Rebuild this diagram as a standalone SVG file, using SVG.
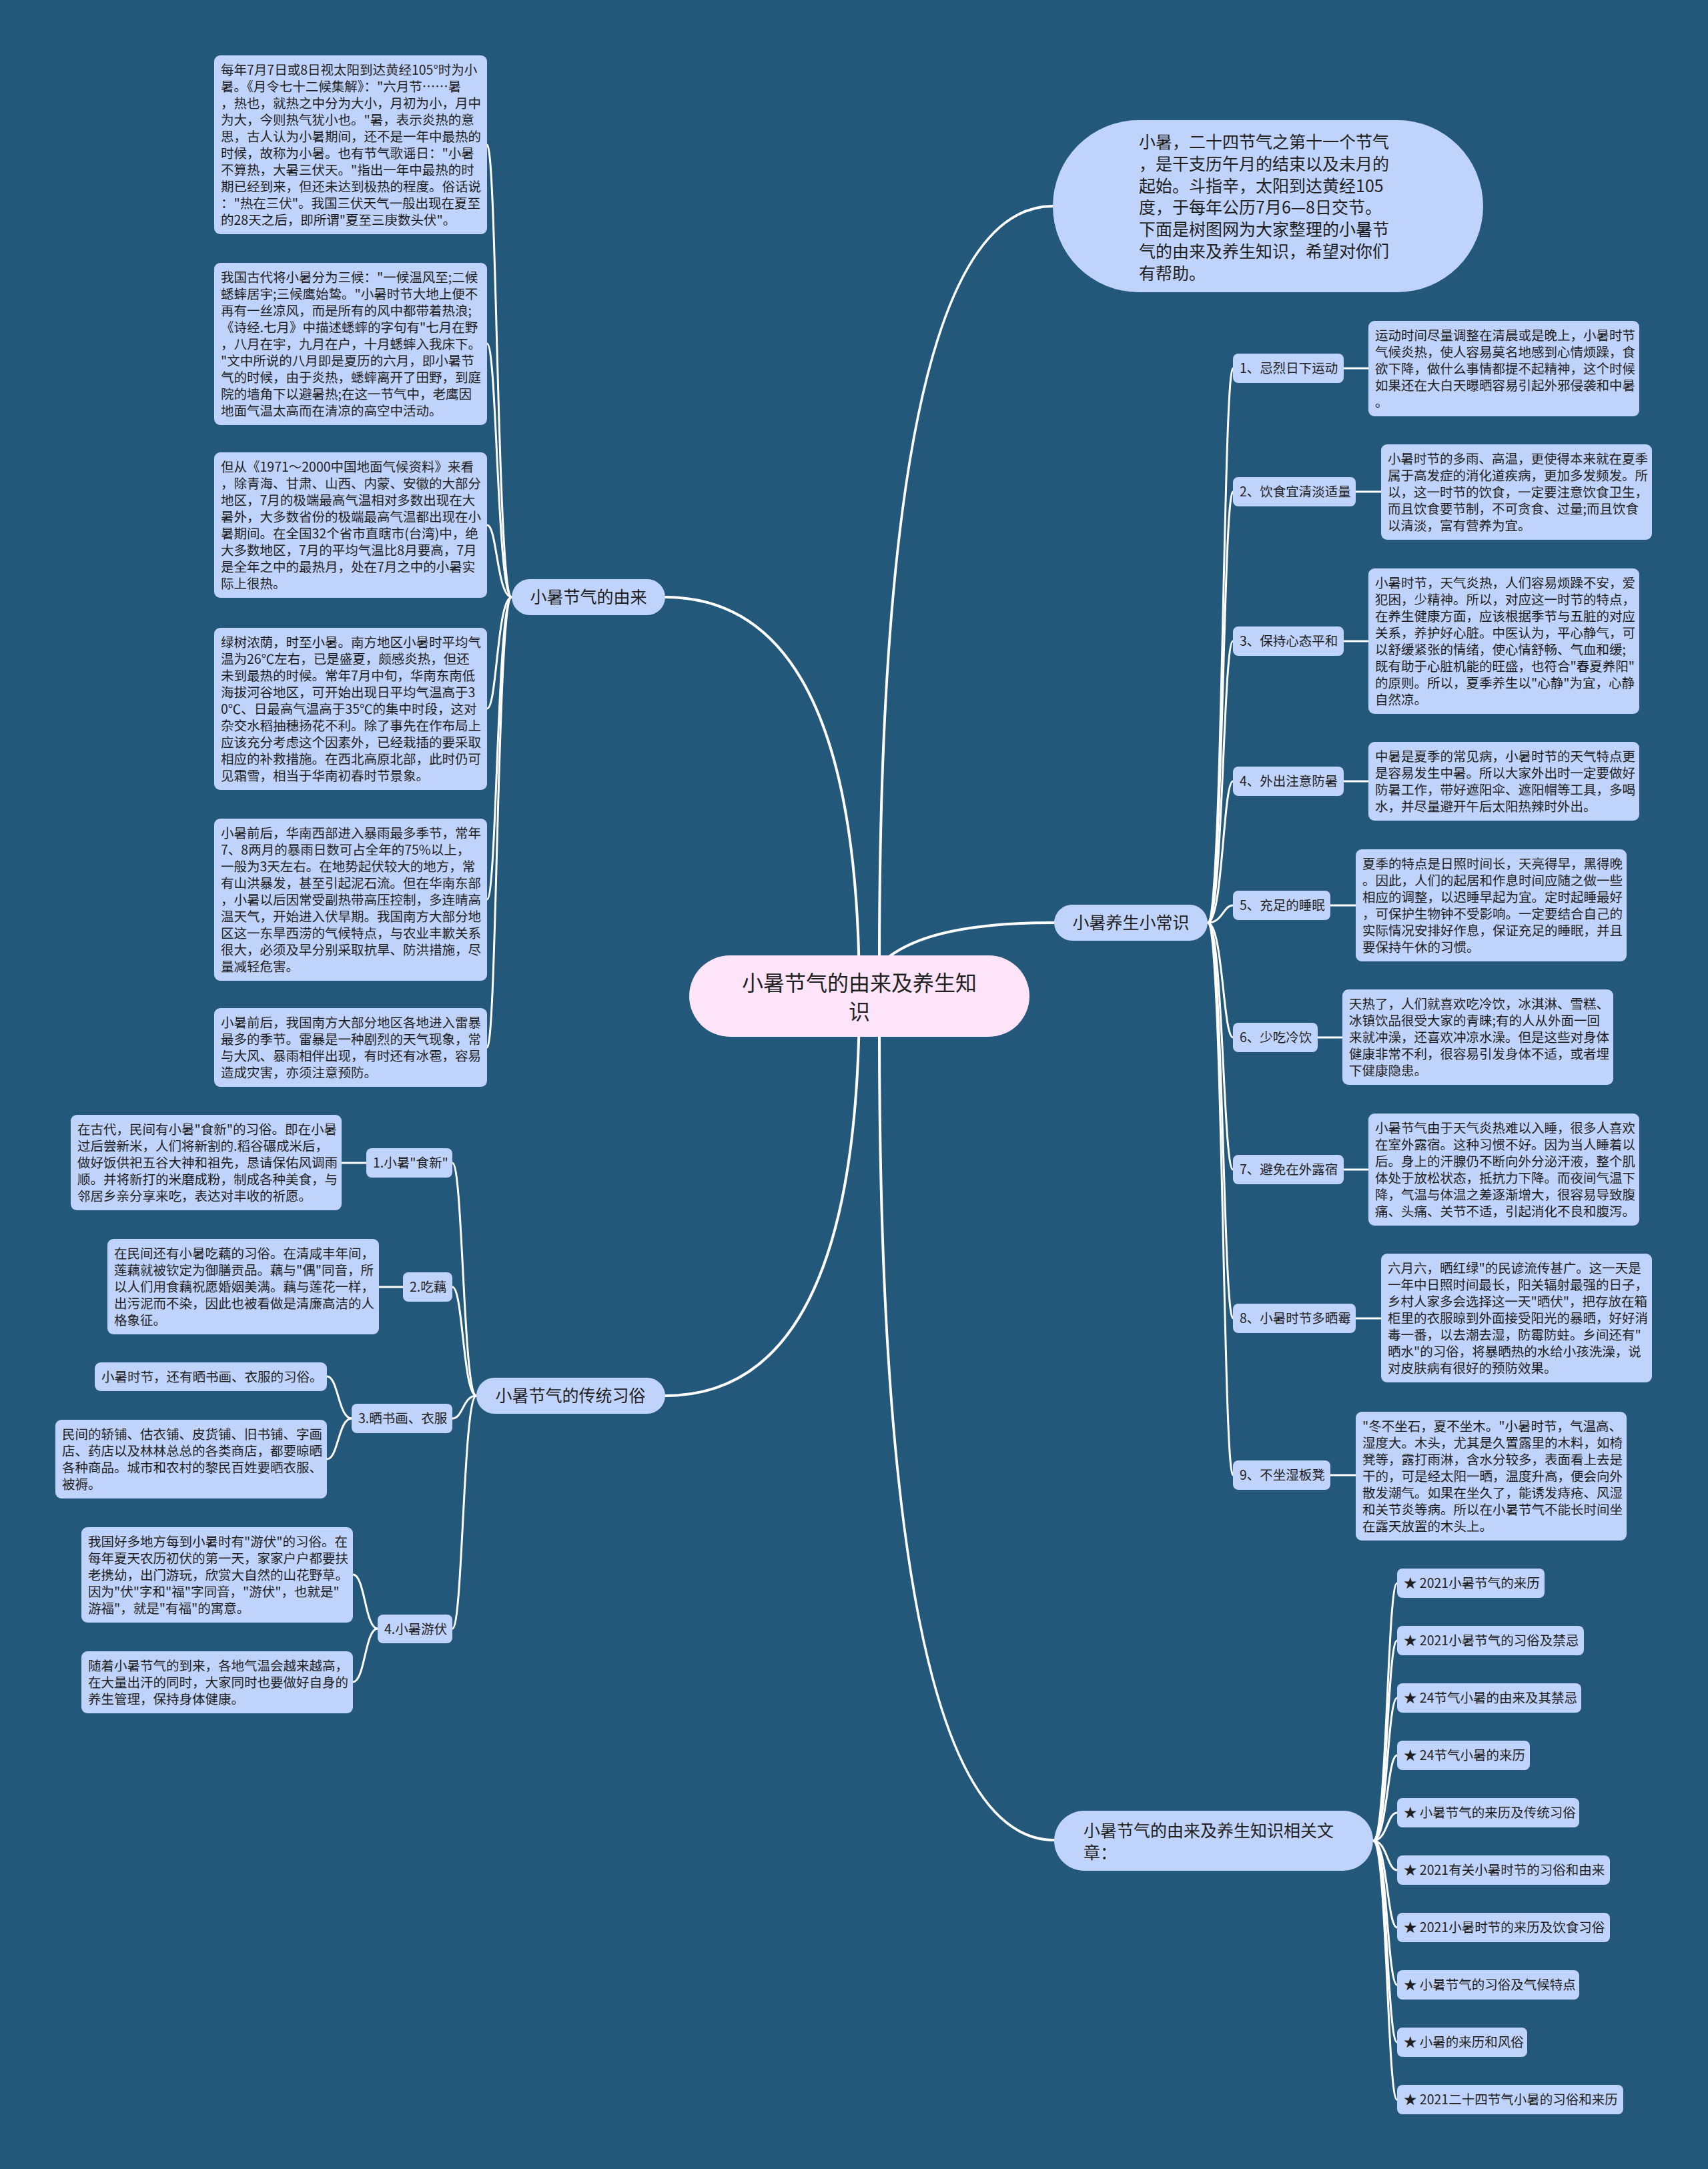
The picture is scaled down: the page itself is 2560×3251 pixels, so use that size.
<svg xmlns="http://www.w3.org/2000/svg" width="2560" height="3251" viewBox="0 0 2560 3251">
<style>
.box{fill:#bfd3fb}
.root{fill:#fde4f9}
.t{font-family:"Noto Sans CJK SC","Noto Sans CJK JP",sans-serif;font-size:19.5px;fill:#1f1f1f}
.t2{font-family:"Noto Sans CJK SC","Noto Sans CJK JP",sans-serif;font-size:25px;fill:#1f1f1f}
.t3{font-family:"Noto Sans CJK SC","Noto Sans CJK JP",sans-serif;font-size:32px;fill:#1f1f1f}
.c{fill:none;stroke:#ffffff;stroke-width:3;stroke-linecap:round}
.cm{fill:none;stroke:#ffffff;stroke-width:4;stroke-linecap:round}
</style>
<rect x="0" y="0" width="2560" height="3251" fill="#24587a"/>
<g id="connectors">
<path class="cm" d="M1288 1493 Q1288 895 997 895"/>
<path class="cm" d="M1288 1493 Q1288 2092 997 2092"/>
<path class="cm" d="M1318 1440 Q1318 309 1578 309"/>
<path class="cm" d="M1288 1493 C1320 1400 1450 1383 1580 1383"/>
<path class="cm" d="M1318 1548 Q1318 2758 1580 2758"/>
<path class="c" d="M767 895 C745 895 745 217 730 217"/>
<path class="c" d="M767 895 C745 895 745 515 730 515"/>
<path class="c" d="M767 895 C745 895 745 787 730 787"/>
<path class="c" d="M767 895 C745 895 745 1062 730 1062"/>
<path class="c" d="M767 895 C745 895 745 1348 730 1348"/>
<path class="c" d="M767 895 C745 895 745 1570 730 1570"/>
<path class="c" d="M714 2092 C694 2092 694 1743 678 1743"/>
<path class="c" d="M714 2092 C694 2092 694 1929 678 1929"/>
<path class="c" d="M714 2092 C694 2092 694 2126 678 2126"/>
<path class="c" d="M714 2092 C694 2092 694 2441 678 2441"/>
<path class="c" d="M549 1743 L512 1743"/>
<path class="c" d="M604 1929 L568 1929"/>
<path class="c" d="M527 2126 C507 2126 507 2063 490 2063"/>
<path class="c" d="M527 2126 C507 2126 507 2187 490 2187"/>
<path class="c" d="M566 2441 C547 2441 547 2360 529 2360"/>
<path class="c" d="M566 2441 C547 2441 547 2521 529 2521"/>
<path class="c" d="M1810 1383 C1833 1383 1833 552 1848 552"/>
<path class="c" d="M1810 1383 C1833 1383 1833 737 1848 737"/>
<path class="c" d="M1810 1383 C1833 1383 1833 961 1848 961"/>
<path class="c" d="M1810 1383 C1833 1383 1833 1171 1848 1171"/>
<path class="c" d="M1810 1383 C1833 1383 1833 1357 1848 1357"/>
<path class="c" d="M1810 1383 C1833 1383 1833 1555 1848 1555"/>
<path class="c" d="M1810 1383 C1833 1383 1833 1753 1848 1753"/>
<path class="c" d="M1810 1383 C1833 1383 1833 1976 1848 1976"/>
<path class="c" d="M1810 1383 C1833 1383 1833 2211 1848 2211"/>
<path class="c" d="M2014 552 L2051 552"/>
<path class="c" d="M2032 737 L2070 737"/>
<path class="c" d="M2014 961 L2051 961"/>
<path class="c" d="M2014 1171 L2051 1171"/>
<path class="c" d="M1994 1357 L2032 1357"/>
<path class="c" d="M1975 1555 L2012 1555"/>
<path class="c" d="M2014 1753 L2051 1753"/>
<path class="c" d="M2032 1976 L2070 1976"/>
<path class="c" d="M1994 2211 L2032 2211"/>
<path class="c" d="M2058 2759 C2079 2759 2079 2373 2094 2373"/>
<path class="c" d="M2058 2759 C2079 2759 2079 2459 2094 2459"/>
<path class="c" d="M2058 2759 C2079 2759 2079 2545 2094 2545"/>
<path class="c" d="M2058 2759 C2079 2759 2079 2631 2094 2631"/>
<path class="c" d="M2058 2759 C2079 2759 2079 2717 2094 2717"/>
<path class="c" d="M2058 2759 C2079 2759 2079 2803 2094 2803"/>
<path class="c" d="M2058 2759 C2079 2759 2079 2889 2094 2889"/>
<path class="c" d="M2058 2759 C2079 2759 2079 2975 2094 2975"/>
<path class="c" d="M2058 2759 C2079 2759 2079 3061 2094 3061"/>
<path class="c" d="M2058 2759 C2079 2759 2079 3147 2094 3147"/>
</g>
<g id="root">
<rect class="root" x="1033" y="1432" width="510" height="122" rx="61"/>
<text class="t3" text-anchor="middle"><tspan x="1288" y="1485">小暑节气的由来及养生知</tspan><tspan x="1288" y="1528">识</tspan></text>
</g>
<g id="intro">
<rect class="box" x="1578" y="180" width="645" height="258" rx="129"/>
<text class="t2"><tspan x="1707" y="222">小暑，二十四节气之第十一个节气</tspan><tspan x="1707" y="255">，是干支历午月的结束以及未月的</tspan><tspan x="1707" y="288">起始。斗指辛，太阳到达黄经105</tspan><tspan x="1707" y="320">度，于每年公历7月6—8日交节。</tspan><tspan x="1707" y="353">下面是树图网为大家整理的小暑节</tspan><tspan x="1707" y="386">气的由来及养生知识，希望对你们</tspan><tspan x="1707" y="419">有帮助。</tspan></text>
</g>
<g id="origin">
<rect class="box" x="767" y="868" width="230" height="54" rx="27"/>
<text class="t2" x="882" y="904" text-anchor="middle">小暑节气的由来</text>
</g>
<g id="origin-1">
<rect class="box" x="321" y="83" width="409" height="268" rx="9"/>
<text class="t"><tspan x="331" y="112">每年7月7日或8日视太阳到达黄经105°时为小</tspan><tspan x="331" dy="25">暑。《月令七十二候集解》："六月节……暑</tspan><tspan x="331" dy="25">，热也，就热之中分为大小，月初为小，月中</tspan><tspan x="331" dy="25">为大，今则热气犹小也。"暑，表示炎热的意</tspan><tspan x="331" dy="25">思，古人认为小暑期间，还不是一年中最热的</tspan><tspan x="331" dy="25">时候，故称为小暑。也有节气歌谣日："小暑</tspan><tspan x="331" dy="25">不算热，大暑三伏天。"指出一年中最热的时</tspan><tspan x="331" dy="25">期已经到来，但还未达到极热的程度。俗话说</tspan><tspan x="331" dy="25">："热在三伏"。我国三伏天气一般出现在夏至</tspan><tspan x="331" dy="25">的28天之后，即所谓"夏至三庚数头伏"。</tspan></text>
</g>
<g id="origin-2">
<rect class="box" x="321" y="394" width="409" height="243" rx="9"/>
<text class="t"><tspan x="331" y="423">我国古代将小暑分为三候："一候温风至;二候</tspan><tspan x="331" dy="25">蟋蟀居宇;三候鹰始鸷。"小暑时节大地上便不</tspan><tspan x="331" dy="25">再有一丝凉风，而是所有的风中都带着热浪;</tspan><tspan x="331" dy="25">《诗经.七月》中描述蟋蟀的字句有"七月在野</tspan><tspan x="331" dy="25">，八月在宇，九月在户，十月蟋蟀入我床下。</tspan><tspan x="331" dy="25">"文中所说的八月即是夏历的六月，即小暑节</tspan><tspan x="331" dy="25">气的时候，由于炎热，蟋蟀离开了田野，到庭</tspan><tspan x="331" dy="25">院的墙角下以避暑热;在这一节气中，老鹰因</tspan><tspan x="331" dy="25">地面气温太高而在清凉的高空中活动。</tspan></text>
</g>
<g id="origin-3">
<rect class="box" x="321" y="678" width="409" height="218" rx="9"/>
<text class="t"><tspan x="331" y="707">但从《1971～2000中国地面气候资料》来看</tspan><tspan x="331" dy="25">，除青海、甘肃、山西、内蒙、安徽的大部分</tspan><tspan x="331" dy="25">地区，7月的极端最高气温相对多数出现在大</tspan><tspan x="331" dy="25">暑外，大多数省份的极端最高气温都出现在小</tspan><tspan x="331" dy="25">暑期间。在全国32个省市直瞎市(台湾)中，绝</tspan><tspan x="331" dy="25">大多数地区，7月的平均气温比8月要高，7月</tspan><tspan x="331" dy="25">是全年之中的最热月，处在7月之中的小暑实</tspan><tspan x="331" dy="25">际上很热。</tspan></text>
</g>
<g id="origin-4">
<rect class="box" x="321" y="941" width="409" height="243" rx="9"/>
<text class="t"><tspan x="331" y="970">绿树浓荫，时至小暑。南方地区小暑时平均气</tspan><tspan x="331" dy="25">温为26℃左右，已是盛夏，颇感炎热，但还</tspan><tspan x="331" dy="25">未到最热的时候。常年7月中旬，华南东南低</tspan><tspan x="331" dy="25">海拔河谷地区，可开始出现日平均气温高于3</tspan><tspan x="331" dy="25">0℃、日最高气温高于35℃的集中时段，这对</tspan><tspan x="331" dy="25">杂交水稻抽穗扬花不利。除了事先在作布局上</tspan><tspan x="331" dy="25">应该充分考虑这个因素外，已经栽插的要采取</tspan><tspan x="331" dy="25">相应的补救措施。在西北高原北部，此时仍可</tspan><tspan x="331" dy="25">见霜雪，相当于华南初春时节景象。</tspan></text>
</g>
<g id="origin-5">
<rect class="box" x="321" y="1227" width="409" height="243" rx="9"/>
<text class="t"><tspan x="331" y="1256">小暑前后，华南西部进入暴雨最多季节，常年</tspan><tspan x="331" dy="25">7、8两月的暴雨日数可占全年的75%以上，</tspan><tspan x="331" dy="25">一般为3天左右。在地势起伏较大的地方，常</tspan><tspan x="331" dy="25">有山洪暴发，甚至引起泥石流。但在华南东部</tspan><tspan x="331" dy="25">，小暑以后因常受副热带高压控制，多连晴高</tspan><tspan x="331" dy="25">温天气，开始进入伏旱期。我国南方大部分地</tspan><tspan x="331" dy="25">区这一东旱西涝的气候特点，与农业丰歉关系</tspan><tspan x="331" dy="25">很大，必须及早分别采取抗旱、防洪措施，尽</tspan><tspan x="331" dy="25">量减轻危害。</tspan></text>
</g>
<g id="origin-6">
<rect class="box" x="321" y="1511" width="409" height="118" rx="9"/>
<text class="t"><tspan x="331" y="1540">小暑前后，我国南方大部分地区各地进入雷暴</tspan><tspan x="331" dy="25">最多的季节。雷暴是一种剧烈的天气现象，常</tspan><tspan x="331" dy="25">与大风、暴雨相伴出现，有时还有冰雹，容易</tspan><tspan x="331" dy="25">造成灾害，亦须注意预防。</tspan></text>
</g>
<g id="custom">
<rect class="box" x="714" y="2065" width="283" height="54" rx="27"/>
<text class="t2" x="855" y="2101" text-anchor="middle">小暑节气的传统习俗</text>
</g>
<g id="custom-1">
<rect class="box" x="549" y="1721" width="129" height="44" rx="8"/>
<text class="t" x="559" y="1750">1.小暑"食新"</text>
</g>
<g id="custom-1-text">
<rect class="box" x="106" y="1671" width="406" height="143" rx="9"/>
<text class="t"><tspan x="116" y="1700">在古代，民间有小暑"食新"的习俗。即在小暑</tspan><tspan x="116" dy="25">过后尝新米，人们将新割的.稻谷碾成米后，</tspan><tspan x="116" dy="25">做好饭供祀五谷大神和祖先，恳请保佑风调雨</tspan><tspan x="116" dy="25">顺。并将新打的米磨成粉，制成各种美食，与</tspan><tspan x="116" dy="25">邻居乡亲分享来吃，表达对丰收的祈愿。</tspan></text>
</g>
<g id="custom-2">
<rect class="box" x="604" y="1907" width="74" height="44" rx="8"/>
<text class="t" x="614" y="1936">2.吃藕</text>
</g>
<g id="custom-2-text">
<rect class="box" x="161" y="1857" width="407" height="143" rx="9"/>
<text class="t"><tspan x="171" y="1886">在民间还有小暑吃藕的习俗。在清咸丰年间，</tspan><tspan x="171" dy="25">莲藕就被钦定为御膳贡品。藕与"偶"同音，所</tspan><tspan x="171" dy="25">以人们用食藕祝愿婚姻美满。藕与莲花一样，</tspan><tspan x="171" dy="25">出污泥而不染，因此也被看做是清廉高洁的人</tspan><tspan x="171" dy="25">格象征。</tspan></text>
</g>
<g id="custom-3">
<rect class="box" x="527" y="2104" width="151" height="44" rx="8"/>
<text class="t" x="537" y="2133">3.晒书画、衣服</text>
</g>
<g id="custom-3-text-a">
<rect class="box" x="142" y="2042" width="348" height="43" rx="9"/>
<text class="t" x="152" y="2071">小暑时节，还有晒书画、衣服的习俗。</text>
</g>
<g id="custom-3-text-b">
<rect class="box" x="83" y="2128" width="407" height="118" rx="9"/>
<text class="t"><tspan x="93" y="2157">民间的轿铺、估衣铺、皮货铺、旧书铺、字画</tspan><tspan x="93" dy="25">店、药店以及林林总总的各类商店，都要晾晒</tspan><tspan x="93" dy="25">各种商品。城市和农村的黎民百姓要晒衣服、</tspan><tspan x="93" dy="25">被褥。</tspan></text>
</g>
<g id="custom-4">
<rect class="box" x="566" y="2420" width="112" height="43" rx="8"/>
<text class="t" x="576" y="2449">4.小暑游伏</text>
</g>
<g id="custom-4-text-a">
<rect class="box" x="122" y="2289" width="407" height="143" rx="9"/>
<text class="t"><tspan x="132" y="2318">我国好多地方每到小暑时有"游伏"的习俗。在</tspan><tspan x="132" dy="25">每年夏天农历初伏的第一天，家家户户都要扶</tspan><tspan x="132" dy="25">老携幼，出门游玩，欣赏大自然的山花野草。</tspan><tspan x="132" dy="25">因为"伏"字和"福"字同音，"游伏"，也就是"</tspan><tspan x="132" dy="25">游福"，就是"有福"的寓意。</tspan></text>
</g>
<g id="custom-4-text-b">
<rect class="box" x="122" y="2475" width="407" height="93" rx="9"/>
<text class="t"><tspan x="132" y="2504">随着小暑节气的到来，各地气温会越来越高，</tspan><tspan x="132" dy="25">在大量出汗的同时，大家同时也要做好自身的</tspan><tspan x="132" dy="25">养生管理，保持身体健康。</tspan></text>
</g>
<g id="health">
<rect class="box" x="1580" y="1356" width="230" height="54" rx="27"/>
<text class="t2" x="1695" y="1392" text-anchor="middle">小暑养生小常识</text>
</g>
<g id="health-1">
<rect class="box" x="1848" y="530" width="166" height="44" rx="8"/>
<text class="t" x="1858" y="559">1、忌烈日下运动</text>
<rect class="box" x="2051" y="481" width="406" height="143" rx="9"/>
<text class="t"><tspan x="2061" y="510">运动时间尽量调整在清晨或是晚上，小暑时节</tspan><tspan x="2061" dy="25">气候炎热，使人容易莫名地感到心情烦躁，食</tspan><tspan x="2061" dy="25">欲下降，做什么事情都提不起精神，这个时候</tspan><tspan x="2061" dy="25">如果还在大白天曝晒容易引起外邪侵袭和中暑</tspan><tspan x="2061" dy="25">。</tspan></text>
</g>
<g id="health-2">
<rect class="box" x="1848" y="715" width="184" height="44" rx="8"/>
<text class="t" x="1858" y="744">2、饮食宜清淡适量</text>
<rect class="box" x="2070" y="666" width="406" height="143" rx="9"/>
<text class="t"><tspan x="2080" y="695">小暑时节的多雨、高温，更使得本来就在夏季</tspan><tspan x="2080" dy="25">属于高发症的消化道疾病，更加多发频发。所</tspan><tspan x="2080" dy="25">以，这一时节的饮食，一定要注意饮食卫生，</tspan><tspan x="2080" dy="25">而且饮食要节制，不可贪食、过量;而且饮食</tspan><tspan x="2080" dy="25">以清淡，富有营养为宜。</tspan></text>
</g>
<g id="health-3">
<rect class="box" x="1848" y="939" width="166" height="44" rx="8"/>
<text class="t" x="1858" y="968">3、保持心态平和</text>
<rect class="box" x="2051" y="852" width="406" height="218" rx="9"/>
<text class="t"><tspan x="2061" y="881">小暑时节，天气炎热，人们容易烦躁不安，爱</tspan><tspan x="2061" dy="25">犯困，少精神。所以，对应这一时节的特点，</tspan><tspan x="2061" dy="25">在养生健康方面，应该根据季节与五脏的对应</tspan><tspan x="2061" dy="25">关系，养护好心脏。中医认为，平心静气，可</tspan><tspan x="2061" dy="25">以舒缓紧张的情绪，使心情舒畅、气血和缓;</tspan><tspan x="2061" dy="25">既有助于心脏机能的旺盛，也符合"春夏养阳"</tspan><tspan x="2061" dy="25">的原则。所以，夏季养生以"心静"为宜，心静</tspan><tspan x="2061" dy="25">自然凉。</tspan></text>
</g>
<g id="health-4">
<rect class="box" x="1848" y="1149" width="166" height="44" rx="8"/>
<text class="t" x="1858" y="1178">4、外出注意防暑</text>
<rect class="box" x="2051" y="1112" width="406" height="118" rx="9"/>
<text class="t"><tspan x="2061" y="1141">中暑是夏季的常见病，小暑时节的天气特点更</tspan><tspan x="2061" dy="25">是容易发生中暑。所以大家外出时一定要做好</tspan><tspan x="2061" dy="25">防暑工作，带好遮阳伞、遮阳帽等工具，多喝</tspan><tspan x="2061" dy="25">水，并尽量避开午后太阳热辣时外出。</tspan></text>
</g>
<g id="health-5">
<rect class="box" x="1848" y="1335" width="146" height="44" rx="8"/>
<text class="t" x="1858" y="1364">5、充足的睡眠</text>
<rect class="box" x="2032" y="1273" width="406" height="168" rx="9"/>
<text class="t"><tspan x="2042" y="1302">夏季的特点是日照时间长，天亮得早，黑得晚</tspan><tspan x="2042" dy="25">。因此，人们的起居和作息时间应随之做一些</tspan><tspan x="2042" dy="25">相应的调整，以迟睡早起为宜。定时起睡最好</tspan><tspan x="2042" dy="25">，可保护生物钟不受影响。一定要结合自己的</tspan><tspan x="2042" dy="25">实际情况安排好作息，保证充足的睡眠，并且</tspan><tspan x="2042" dy="25">要保持午休的习惯。</tspan></text>
</g>
<g id="health-6">
<rect class="box" x="1848" y="1533" width="127" height="44" rx="8"/>
<text class="t" x="1858" y="1562">6、少吃冷饮</text>
<rect class="box" x="2012" y="1483" width="406" height="143" rx="9"/>
<text class="t"><tspan x="2022" y="1512">天热了，人们就喜欢吃冷饮，冰淇淋、雪糕、</tspan><tspan x="2022" dy="25">冰镇饮品很受大家的青睐;有的人从外面一回</tspan><tspan x="2022" dy="25">来就冲澡，还喜欢冲凉水澡。但是这些对身体</tspan><tspan x="2022" dy="25">健康非常不利，很容易引发身体不适，或者埋</tspan><tspan x="2022" dy="25">下健康隐患。</tspan></text>
</g>
<g id="health-7">
<rect class="box" x="1848" y="1731" width="166" height="44" rx="8"/>
<text class="t" x="1858" y="1760">7、避免在外露宿</text>
<rect class="box" x="2051" y="1669" width="406" height="168" rx="9"/>
<text class="t"><tspan x="2061" y="1698">小暑节气由于天气炎热难以入睡，很多人喜欢</tspan><tspan x="2061" dy="25">在室外露宿。这种习惯不好。因为当人睡着以</tspan><tspan x="2061" dy="25">后。身上的汗腺仍不断向外分泌汗液，整个肌</tspan><tspan x="2061" dy="25">体处于放松状态，抵抗力下降。而夜间气温下</tspan><tspan x="2061" dy="25">降，气温与体温之差逐渐增大，很容易导致腹</tspan><tspan x="2061" dy="25">痛、头痛、关节不适，引起消化不良和腹泻。</tspan></text>
</g>
<g id="health-8">
<rect class="box" x="1848" y="1954" width="184" height="44" rx="8"/>
<text class="t" x="1858" y="1983">8、小暑时节多晒霉</text>
<rect class="box" x="2070" y="1879" width="406" height="193" rx="9"/>
<text class="t"><tspan x="2080" y="1908">六月六，晒红绿"的民谚流传甚广。这一天是</tspan><tspan x="2080" dy="25">一年中日照时间最长，阳关辐射最强的日子，</tspan><tspan x="2080" dy="25">乡村人家多会选择这一天"晒伏"，把存放在箱</tspan><tspan x="2080" dy="25">柜里的衣服晾到外面接受阳光的暴晒，好好消</tspan><tspan x="2080" dy="25">毒一番，以去潮去湿，防霉防蛀。乡间还有"</tspan><tspan x="2080" dy="25">晒水"的习俗，将暴晒热的水给小孩洗澡，说</tspan><tspan x="2080" dy="25">对皮肤病有很好的预防效果。</tspan></text>
</g>
<g id="health-9">
<rect class="box" x="1848" y="2189" width="146" height="44" rx="8"/>
<text class="t" x="1858" y="2218">9、不坐湿板凳</text>
<rect class="box" x="2032" y="2116" width="406" height="193" rx="9"/>
<text class="t"><tspan x="2042" y="2145">"冬不坐石，夏不坐木。"小暑时节，气温高、</tspan><tspan x="2042" dy="25">湿度大。木头，尤其是久置露里的木料，如椅</tspan><tspan x="2042" dy="25">凳等，露打雨淋，含水分较多，表面看上去是</tspan><tspan x="2042" dy="25">干的，可是经太阳一晒，温度升高，便会向外</tspan><tspan x="2042" dy="25">散发潮气。如果在坐久了，能诱发痔疮、风湿</tspan><tspan x="2042" dy="25">和关节炎等病。所以在小暑节气不能长时间坐</tspan><tspan x="2042" dy="25">在露天放置的木头上。</tspan></text>
</g>
<g id="related">
<rect class="box" x="1580" y="2714" width="478" height="90" rx="45"/>
<text class="t2"><tspan x="1624" y="2753">小暑节气的由来及养生知识相关文</tspan><tspan x="1624" y="2786">章：</tspan></text>
</g>
<g id="related-items">
<rect class="box" x="2094" y="2351" width="221" height="44" rx="8"/>
<text class="t" x="2104" y="2380">★ 2021小暑节气的来历</text>
<rect class="box" x="2094" y="2437" width="280" height="44" rx="8"/>
<text class="t" x="2104" y="2466">★ 2021小暑节气的习俗及禁忌</text>
<rect class="box" x="2094" y="2523" width="276" height="44" rx="8"/>
<text class="t" x="2104" y="2552">★ 24节气小暑的由来及其禁忌</text>
<rect class="box" x="2094" y="2609" width="199" height="44" rx="8"/>
<text class="t" x="2104" y="2638">★ 24节气小暑的来历</text>
<rect class="box" x="2094" y="2695" width="273" height="44" rx="8"/>
<text class="t" x="2104" y="2724">★ 小暑节气的来历及传统习俗</text>
<rect class="box" x="2094" y="2781" width="319" height="44" rx="8"/>
<text class="t" x="2104" y="2810">★ 2021有关小暑时节的习俗和由来</text>
<rect class="box" x="2094" y="2867" width="319" height="44" rx="8"/>
<text class="t" x="2104" y="2896">★ 2021小暑时节的来历及饮食习俗</text>
<rect class="box" x="2094" y="2953" width="273" height="44" rx="8"/>
<text class="t" x="2104" y="2982">★ 小暑节气的习俗及气候特点</text>
<rect class="box" x="2094" y="3039" width="195" height="44" rx="8"/>
<text class="t" x="2104" y="3068">★ 小暑的来历和风俗</text>
<rect class="box" x="2094" y="3125" width="339" height="44" rx="8"/>
<text class="t" x="2104" y="3154">★ 2021二十四节气小暑的习俗和来历</text>
</g>
</svg>
